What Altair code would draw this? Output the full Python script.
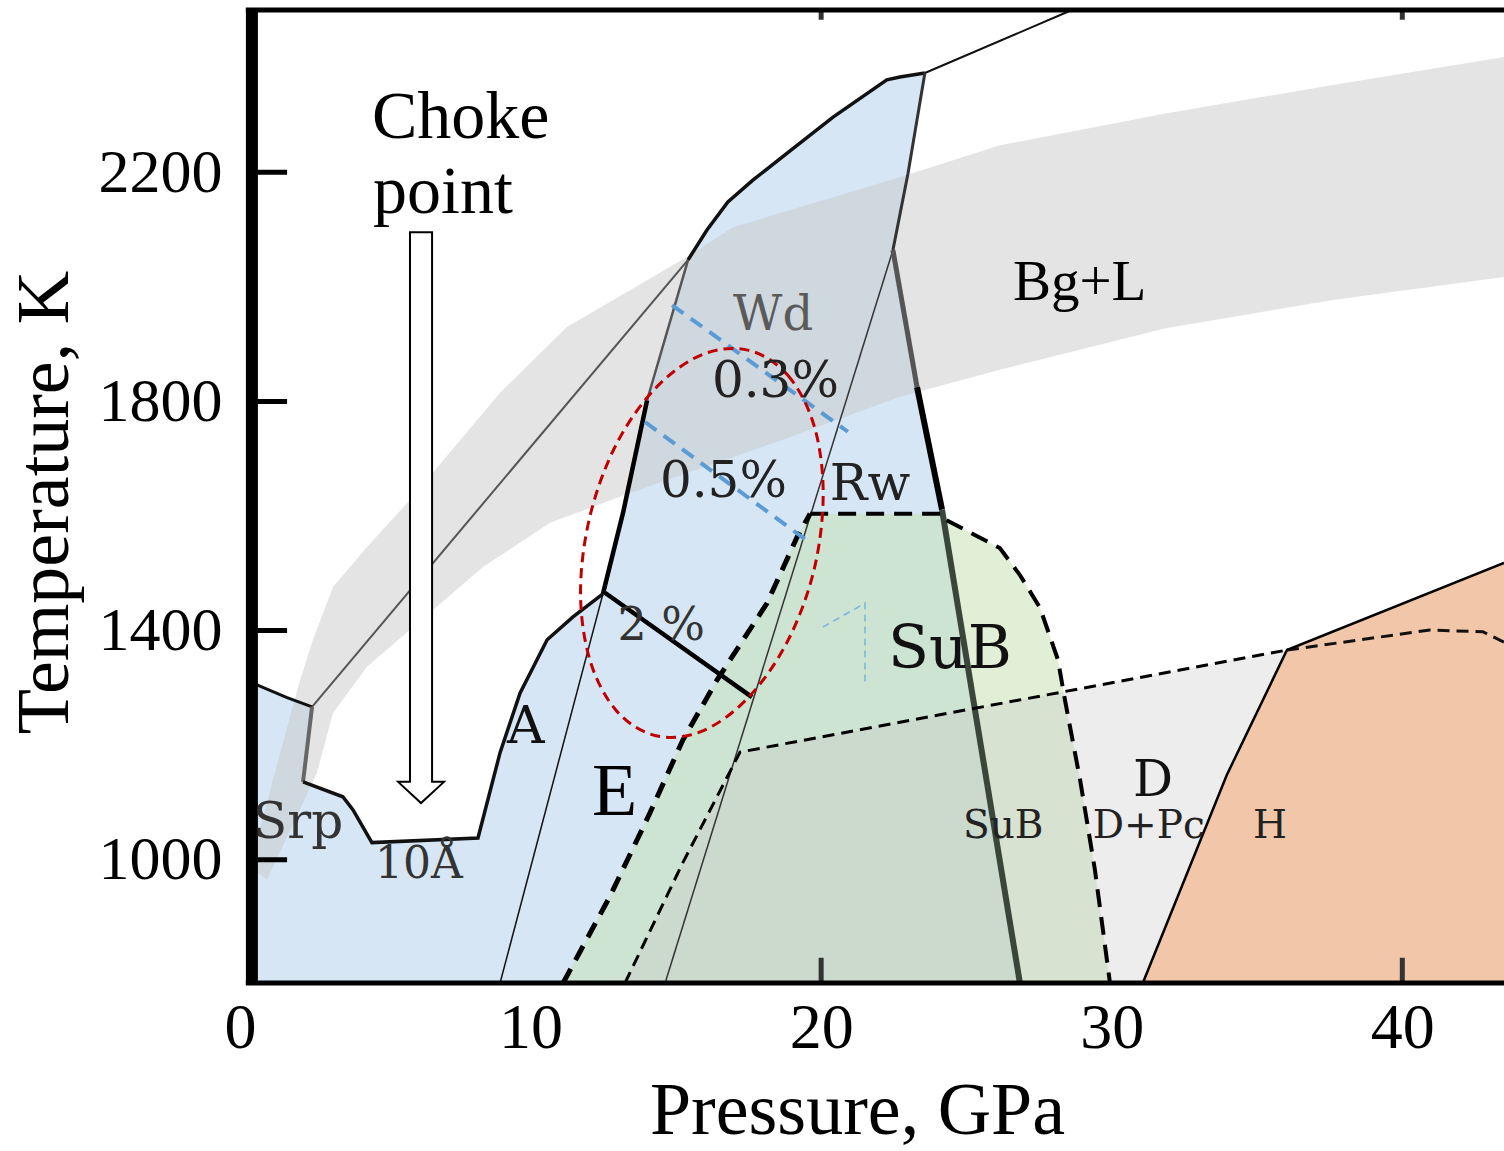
import altair as alt
import pandas as pd

# ---------------- data (Pressure in GPa, Temperature in K) ----------------
# filled phase fields
blue_P = [0.4, 0.4, 1.62, 2.48, 2.17, 3.54, 3.89, 4.54, 8.19, 8.95, 9.64, 10.57, 11.46, 12.49,
          13.18, 14.01, 15.42, 16.07, 16.79, 17.65, 18.82, 20.41, 22.26, 22.71, 23.57, 22.99,
          22.47, 23.30, 24.16, 26.84]
blue_T = [785, 1309, 1283, 1267, 1136, 1110, 1087, 1030, 1038, 1187, 1291, 1384, 1424, 1464,
          1605, 1802, 2047, 2099, 2148, 2186, 2233, 2296, 2361, 2366, 2373, 2198,
          2064, 1825, 1611, 785]

band_P = [0.45, 0.59, 1.14, 2.07, 2.51, 3.20, 4.37, 5.85, 8.95, 11.25, 15.38, 16.97, 22.71, 26.15,
          31.90, 37.61, 43.5, 43.5, 37.61, 31.90, 26.15, 22.71, 18.34, 13.42, 10.67, 8.36, 6.64,
          4.37, 3.20, 2.65, 0.93]
band_T = [985, 1035, 1140, 1314, 1384, 1476, 1546, 1628, 1815, 1930, 2052, 2104, 2191, 2247,
          2303, 2352, 2401, 2017, 1977, 1928, 1855, 1808, 1727, 1640, 1588, 1511, 1436,
          1337, 1256, 1152, 965]

green_P = [11.12, 12.73, 14.11, 15.24, 16.42, 18.14, 19.17, 19.62, 24.16, 24.30, 26.15, 26.84,
           27.53, 28.15, 28.39, 28.91, 29.42, 29.94]
green_T = [785, 936, 1082, 1209, 1314, 1448, 1563, 1604, 1604, 1593, 1544, 1497,
           1440, 1349, 1279, 1140, 983, 785]

dfield_P = [13.25, 15.24, 17.21, 36.03, 33.96, 31.07]
dfield_T = [785, 995, 1188, 1366, 1148, 785]

hfield_P = [31.07, 33.96, 36.03, 43.5, 43.5]
hfield_T = [785, 1148, 1366, 1518, 785]

# boundary lines
srp1_P, srp1_T = [0.4, 1.62, 2.48], [1309, 1283, 1267]
srp2_P, srp2_T = [2.48, 2.17], [1267, 1136]
srp3_P = [2.17, 3.54, 3.89, 4.54, 8.19, 8.95, 9.64, 10.57, 11.46, 12.49]
srp3_T = [1136, 1110, 1087, 1030, 1038, 1187, 1291, 1384, 1424, 1464]
wdl1_P, wdl1_T = [12.49, 13.18, 14.01], [1464, 1605, 1802]
wdl2_P, wdl2_T = [14.01, 15.42], [1802, 2047]
top_P = [15.42, 16.07, 16.79, 17.65, 18.82, 20.41, 22.26, 22.71, 23.57]
top_T = [2047, 2099, 2148, 2186, 2233, 2296, 2361, 2366, 2373]
wdr_P, wdr_T = [23.57, 22.99, 22.47], [2373, 2198, 2064]
thk1_P, thk1_T = [22.47, 23.30], [2064, 1825]
thk2_P, thk2_T = [23.30, 24.16], [1825, 1611]
thk3_P, thk3_T = [24.16, 26.84], [1611, 785]
liq_P, liq_T = [23.57, 28.63], [2373, 2483]
srpwd_P, srpwd_T = [2.48, 15.42], [1267, 2047]
ae_P, ae_T = [8.95, 12.49], [785, 1464]
wdrw_P, wdrw_T = [22.47, 14.63], [2064, 785]
edash_P = [11.12, 12.73, 14.11, 15.24, 16.42, 18.14, 19.17, 19.62]
edash_T = [785, 936, 1082, 1209, 1314, 1448, 1563, 1604]
sub_P = [19.62, 24.16, 24.30, 26.15, 26.84, 27.53, 28.15, 28.39, 28.91, 29.42, 29.94]
sub_T = [1604, 1604, 1593, 1544, 1497, 1440, 1349, 1279, 1140, 983, 785]
ddash_P, ddash_T = [13.25, 15.24, 17.21, 36.03], [785, 995, 1188, 1366]
hdash_P, hdash_T = [36.03, 40.95, 42.77, 43.5], [1366, 1401, 1398, 1380]
hline_P, hline_T = [31.07, 33.96, 36.03, 43.5], [785, 1148, 1366, 1518]
two_P, two_T = [12.56, 17.62], [1466, 1284]
w03_P, w03_T = [14.87, 20.92], [1968, 1747]
w05_P, w05_T = [13.94, 19.62], [1764, 1553]
corner_P, corner_T = [20.06, 21.51, 21.51], [1406, 1448, 1309]

ell_P = [17.51, 18.86, 19.76, 20.07, 19.75, 18.83, 17.47, 15.88, 14.28, 12.94, 12.04, 11.72,
         12.05, 12.96, 14.32, 15.92]
ell_T = [1889, 1845, 1757, 1638, 1505, 1380, 1282, 1224, 1217, 1261, 1349, 1468,
         1601, 1726, 1824, 1882]

arrow_P = [5.85, 6.61, 6.61, 7.02, 6.23, 5.44, 5.85]
arrow_T = [2095, 2095, 1136, 1136, 1099, 1136, 1136]

ytick_T = [1000, 1400, 1800, 2200]
xtick_P = [20, 40]
xlabel_P = [0, 10, 20, 30, 40]

serif_text = ["Choke", "point", "Bg+L", "E"]
serif_P = [4.54, 4.58, 26.60, 12.11]
serif_T = [2259, 2129, 1977, 1079]
serif_size = [68, 68, 57, 74]

wide_text = ["Wd", "0.3%", "0.5%", "Rw", "2 %", "SuB", "A", "D", "SuB", "D+Pc", "H", "Srp", "10Å"]
wide_P = [16.97, 16.24, 14.45, 20.30, 12.99, 22.30, 9.19, 30.73, 24.88, 29.35, 34.86, 0.45, 4.65]
wide_T = [1925, 1808, 1633, 1628, 1384, 1335, 1204, 1112, 1038, 1038, 1038, 1038, 969]
wide_size = [48, 50, 50, 50, 46, 60, 52, 50, 39, 39, 39, 50, 44]
wide_color = ["#5a5a5a", "#222222", "#222222", "#222222", "#333333", "#111111", "#111111",
              "#111111", "#222222", "#222222", "#222222", "#333333", "#333333"]

# ---------------- chart ----------------
xs = alt.Scale(domain=[0, 43.5], nice=False, zero=False)
ys = alt.Scale(domain=[785, 2483], nice=False, zero=False)
SERIF = "Liberation Serif"

x_axis = alt.Axis(values=xlabel_P, format="d", domain=False, ticks=False, grid=False,
                  labelFont=SERIF, labelFontSize=64, labelColor="black", labelPadding=13,
                  labelFlush=False, labelOverlap=False,
                  title="Pressure, GPa", titleFont=SERIF, titleFontSize=74,
                  titleFontWeight="normal", titleColor="black", titleX=617, titleY=150,
                  titleAlign="center", titleBaseline="alphabetic")
y_axis = alt.Axis(values=ytick_T, format="d", domain=False, ticks=False, grid=False,
                  labelFont=SERIF, labelFontSize=62, labelColor="black", labelPadding=18,
                  labelFlush=False, labelOverlap=False,
                  title="Temperature, K", titleFont=SERIF, titleFontSize=74,
                  titleFontWeight="normal", titleColor="black", titleX=-173, titleY=492,
                  titleAngle=270, titleAlign="center", titleBaseline="alphabetic")

X = lambda f: alt.X(f, scale=xs, axis=x_axis)
Y = lambda f: alt.Y(f, scale=ys, axis=y_axis)


def frame(P, T):
    return pd.DataFrame({"P": P, "T": T, "k": list(range(len(P)))})


def path(P, T, **mark):
    return alt.Chart(frame(P, T)).mark_line(**mark).encode(x=X("P:Q"), y=Y("T:Q"), order="k:Q")


def poly(P, T, fill, opacity=1.0):
    return path(P, T, fill=fill, fillOpacity=opacity, strokeOpacity=0,
                interpolate="linear-closed")


layers = [
    poly(blue_P, blue_T, "#d6e6f5"),
    poly(band_P, band_T, "#c6c6c6", 0.48),
    poly(green_P, green_T, "#c8e2b4", 0.55),
    poly(dfield_P, dfield_T, "#c8c8c8", 0.32),
    poly(hfield_P, hfield_T, "#f2c6a8"),
    path(srpwd_P, srpwd_T, color="#555555", strokeWidth=2),
    path(ae_P, ae_T, color="#111111", strokeWidth=1.5),
    path(wdrw_P, wdrw_T, color="#333333", strokeWidth=1.5),
    path(liq_P, liq_T, color="#111111", strokeWidth=2),
    path(srp1_P, srp1_T, color="#111111", strokeWidth=3),
    path(srp2_P, srp2_T, color="#666666", strokeWidth=4),
    path(srp3_P, srp3_T, color="#111111", strokeWidth=3.5),
    path(wdl1_P, wdl1_T, color="#000000", strokeWidth=4.5),
    path(wdl2_P, wdl2_T, color="#555555", strokeWidth=2.5),
    path(top_P, top_T, color="#111111", strokeWidth=3.5),
    path(wdr_P, wdr_T, color="#333333", strokeWidth=3),
    path(thk1_P, thk1_T, color="#555555", strokeWidth=5),
    path(thk2_P, thk2_T, color="#000000", strokeWidth=6),
    path(thk3_P, thk3_T, color="#3b463b", strokeWidth=6),
    path(edash_P, edash_T, color="#000000", strokeWidth=5, strokeDash=[16, 10]),
    path(sub_P, sub_T, color="#000000", strokeWidth=4, strokeDash=[18, 10]),
    path(ddash_P, ddash_T, color="#000000", strokeWidth=3, strokeDash=[12, 7]),
    path(hdash_P, hdash_T, color="#111111", strokeWidth=3, strokeDash=[12, 7]),
    path(hline_P, hline_T, color="#000000", strokeWidth=2.5),
    path(two_P, two_T, color="#000000", strokeWidth=4.5),
    path(w03_P, w03_T, color="#5b9bd5", strokeWidth=4, strokeDash=[14, 9]),
    path(w05_P, w05_T, color="#5b9bd5", strokeWidth=4, strokeDash=[14, 9]),
    path(corner_P, corner_T, color="#7fb2e0", strokeWidth=1.5, strokeDash=[7, 5]),
    path(ell_P, ell_T, color="#c00000", strokeWidth=3, strokeDash=[10, 6],
         interpolate="cardinal-closed"),
    path(arrow_P, arrow_T, fill="white", color="black", strokeWidth=2,
         interpolate="linear-closed"),
]

# frame and inward ticks
ytk = pd.DataFrame({"T": ytick_T, "P0": [0.4] * 4, "P1": [1.62] * 4})
layers.append(alt.Chart(ytk).mark_rule(color="black", strokeWidth=5).encode(
    x=X("P0:Q"), x2="P1:Q", y=Y("T:Q")))
xtk = pd.DataFrame({"P": xtick_P + xtick_P, "T0": [785, 785, 2466, 2466],
                    "T1": [829, 829, 2483, 2483]})
layers.append(alt.Chart(xtk).mark_rule(color="#333333", strokeWidth=5).encode(
    x=X("P:Q"), y=Y("T0:Q"), y2="T1:Q"))
hb = pd.DataFrame({"T": [785, 2483], "P0": [0.2, 0.2], "P1": [43.5, 43.5]})
layers.append(alt.Chart(hb).mark_rule(color="black", strokeWidth=5).encode(
    x=X("P0:Q"), x2="P1:Q", y=Y("T:Q")))
vb = pd.DataFrame({"P": [0.41], "T0": [785], "T1": [2483]})
layers.append(alt.Chart(vb).mark_rule(color="black", strokeWidth=12).encode(
    x=X("P:Q"), y=Y("T0:Q"), y2="T1:Q"))

# labels
st = pd.DataFrame({"P": serif_P, "T": serif_T, "t": serif_text, "s": serif_size})
layers.append(alt.Chart(st).mark_text(font=SERIF, align="left", baseline="alphabetic",
                                      color="black").encode(
    x=X("P:Q"), y=Y("T:Q"), text="t:N", size=alt.Size("s:Q", scale=None, legend=None)))
wt = pd.DataFrame({"P": wide_P, "T": wide_T, "t": wide_text, "s": wide_size, "c": wide_color})
layers.append(alt.Chart(wt).mark_text(font="DejaVu Serif", align="left",
                                      baseline="alphabetic").encode(
    x=X("P:Q"), y=Y("T:Q"), text="t:N", size=alt.Size("s:Q", scale=None, legend=None),
    color=alt.Color("c:N", scale=None, legend=None)))

chart = alt.layer(*layers).properties(
    width=1264, height=973,
    padding={"left": 240, "top": 10, "right": 0, "bottom": 168},
    autosize=alt.AutoSizeParams(type="none"),
    background="white",
).configure_view(strokeWidth=0)

chart.save("out.html", embed_options={"renderer": "svg", "actions": False})
